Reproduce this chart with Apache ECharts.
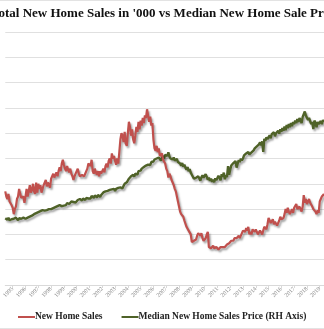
<!DOCTYPE html>
<html>
<head>
<meta charset="utf-8">
<script src="https://cdn.jsdelivr.net/npm/echarts@6/dist/echarts.min.js"></script>
<style>
  html, body { margin: 0; padding: 0; background: #ffffff; }
  #chart { width: 324px; height: 329px; }
</style>
</head>
<body>
<div id="chart"></div>
<script>
// Monthly series, June 1994 through May 2019.
const firstYear = 1994;
const firstMonth = 6;

// New home sales, thousands (SAAR), one row per calendar year
const sales1994 = [740, 700, 680, 720, 660, 650, 630];
const sales1995 = [610, 560, 600, 620, 680, 700, 760, 720, 690, 680, 700, 650];
const sales1996 = [700, 760, 700, 740, 790, 730, 750, 800, 740, 720, 810, 730];
const sales1997 = [800, 760, 790, 730, 740, 790, 800, 830, 780, 810, 820, 770];
const sales1998 = [840, 860, 880, 850, 870, 890, 860, 900, 930, 900, 960, 990];
const sales1999 = [950, 920, 900, 940, 910, 890, 920, 880, 860, 830, 860, 880];
const sales2000 = [890, 920, 880, 860, 850, 870, 880, 860, 850, 900, 920, 960];
const sales2001 = [960, 940, 990, 900, 880, 920, 890, 870, 900, 860, 900, 880];
const sales2002 = [870, 920, 890, 940, 960, 930, 980, 1000, 960, 1040, 1000, 1020];
const sales2003 = [980, 950, 1000, 960, 1050, 1150, 1200, 1180, 1130, 1210, 1120, 1100];
const sales2004 = [1200, 1290, 1250, 1180, 1230, 1150, 1120, 1180, 1250, 1210, 1290, 1230];
const sales2005 = [1300, 1260, 1320, 1280, 1340, 1320, 1389, 1340, 1290, 1330, 1260, 1280];
const sales2006 = [1150, 1080, 1060, 1100, 1050, 1080, 1020, 1010, 1040, 990, 980, 960];
const sales2007 = [920, 900, 850, 880, 860, 830, 810, 790, 760, 740, 700, 660];
const sales2008 = [620, 580, 560, 560, 540, 510, 500, 460, 450, 430, 420, 400];
const sales2009 = [340, 330, 350, 340, 360, 390, 410, 400, 390, 410, 370, 350];
const sales2010 = [360, 370, 400, 420, 300, 300, 290, 290, 310, 290, 280, 300];
const sales2011 = [300, 280, 290, 300, 310, 300, 290, 300, 310, 320, 310, 330];
const sales2012 = [340, 350, 360, 350, 370, 360, 370, 380, 390, 370, 390, 400];
const sales2013 = [430, 440, 420, 450, 430, 460, 400, 420, 400, 440, 430, 420];
const sales2014 = [440, 420, 400, 410, 430, 420, 400, 430, 460, 450, 440, 480];
const sales2015 = [530, 520, 490, 500, 520, 480, 500, 510, 470, 490, 510, 540];
const sales2016 = [520, 510, 530, 560, 600, 570, 610, 580, 560, 580, 600, 570];
const sales2017 = [610, 620, 640, 600, 600, 620, 630, 580, 620, 711, 650, 680];
const sales2018 = [640, 660, 680, 650, 650, 620, 600, 610, 580, 560, 590, 570];
const sales2019 = [660, 680, 700, 710, 720];

// Median new home sale price, $ thousands
const price1994 = [132, 130, 129, 133, 128, 131, 130];
const price1995 = [128, 131, 129, 133, 130, 128, 132, 130, 131, 129, 133, 132];
const price1996 = [131, 134, 133, 136, 135, 138, 137, 136, 140, 139, 142, 141];
const price1997 = [144, 143, 146, 145, 148, 146, 147, 149, 148, 151, 150, 149];
const price1998 = [150, 153, 152, 155, 154, 153, 156, 155, 158, 157, 156, 159];
const price1999 = [157, 160, 158, 162, 161, 160, 163, 165, 162, 164, 166, 163];
const price2000 = [165, 168, 166, 170, 169, 167, 171, 170, 168, 172, 175, 171];
const price2001 = [173, 171, 176, 174, 172, 177, 175, 173, 178, 176, 174, 178];
const price2002 = [180, 183, 181, 185, 182, 186, 184, 188, 185, 189, 187, 190];
const price2003 = [186, 190, 188, 192, 189, 193, 195, 191, 196, 200, 197, 203];
const price2004 = [205, 210, 208, 215, 212, 218, 214, 220, 222, 218, 225, 228];
const price2005 = [226, 230, 228, 233, 231, 236, 234, 238, 241, 237, 243, 240];
const price2006 = [244, 248, 245, 250, 247, 252, 249, 246, 251, 255, 250, 257];
const price2007 = [260, 255, 262, 254, 250, 253, 248, 252, 246, 244, 249, 243];
const price2008 = [244, 240, 236, 241, 234, 238, 232, 228, 233, 225, 229, 222];
const price2009 = [218, 214, 210, 207, 212, 209, 215, 211, 206, 213, 217, 212];
const price2010 = [215, 219, 214, 208, 212, 206, 210, 204, 208, 203, 211, 207];
const price2011 = [210, 216, 212, 207, 219, 214, 222, 209, 217, 213, 235, 218];
const price2012 = [228, 236, 233, 241, 238, 245, 232, 240, 247, 243, 250, 246];
const price2013 = [250, 256, 253, 260, 257, 263, 258, 255, 262, 260, 266, 270];
const price2014 = [268, 274, 271, 278, 282, 276, 284, 263, 289, 285, 292, 288];
const price2015 = [292, 296, 290, 298, 295, 302, 294, 300, 297, 305, 299, 308];
const price2016 = [303, 310, 305, 313, 306, 316, 310, 318, 312, 320, 314, 322];
const price2017 = [318, 325, 320, 328, 322, 330, 326, 320, 332, 329, 343, 335];
const price2018 = [332, 326, 330, 324, 318, 322, 308, 325, 320, 312, 322, 318];
const price2019 = [315, 324, 318, 326, 322];

const salesRows = [sales1994, sales1995, sales1996, sales1997, sales1998, sales1999, sales2000,
  sales2001, sales2002, sales2003, sales2004, sales2005, sales2006, sales2007, sales2008,
  sales2009, sales2010, sales2011, sales2012, sales2013, sales2014, sales2015, sales2016,
  sales2017, sales2018, sales2019];
const priceRows = [price1994, price1995, price1996, price1997, price1998, price1999, price2000,
  price2001, price2002, price2003, price2004, price2005, price2006, price2007, price2008,
  price2009, price2010, price2011, price2012, price2013, price2014, price2015, price2016,
  price2017, price2018, price2019];

const seriesNames = ['New Home Sales', 'Median New Home Sales Price (RH Axis)'];
const titleText = "Total New Home Sales in '000 vs Median New Home Sale Price";

const sales = [].concat(...salesRows);
const price = [].concat(...priceRows);

// month categories "YYYY-MM"
const months = [];
{
  let y = firstYear, m = firstMonth;
  for (let i = 0; i < sales.length; i++) {
    months.push(y + '-' + String(m).padStart(2, '0'));
    m++;
    if (m > 12) { m = 1; y++; }
  }
}
const isJanuary = (idx, val) => String(val).slice(5) === '01';

const chart = echarts.init(document.getElementById('chart'), null, { renderer: 'canvas' });

const lineShadow = {
  shadowColor: 'rgba(0,0,0,0.35)',
  shadowBlur: 2,
  shadowOffsetX: 1.5,
  shadowOffsetY: 2
};

chart.setOption({
  animation: false,
  backgroundColor: '#ffffff',
  graphic: [
    { type: 'line', shape: { x1: 0, y1: 0.5, x2: 324, y2: 0.5 }, style: { stroke: '#e3e3e3', lineWidth: 1 } },
    { type: 'line', shape: { x1: 0, y1: 328.5, x2: 324, y2: 328.5 }, style: { stroke: '#e3e3e3', lineWidth: 1 } },
    {
      type: 'text', left: -9, top: 7,
      style: { text: titleText, font: 'bold 13px "Liberation Serif"', fill: '#111111' }
    }
  ],
  grid: { left: 0, right: 0, top: 32, bottom: 44, containLabel: false },
  legend: {
    top: 307,
    left: 13,
    width: 400,
    itemWidth: 17,
    itemHeight: 2,
    itemGap: 19,
    icon: 'rect',
    textStyle: { fontFamily: 'Liberation Serif', fontWeight: 'bold', fontSize: 9.5, color: '#222222', padding: [0, 0, 0, -5] },
    data: seriesNames
  },
  xAxis: {
    type: 'category',
    data: months,
    boundaryGap: false,
    axisLine: { show: true, lineStyle: { color: '#d9d9d9', width: 1 } },
    axisTick: { show: true, interval: isJanuary, length: 3, lineStyle: { color: '#d9d9d9' } },
    axisLabel: {
      interval: isJanuary,
      formatter: v => v.slice(0, 4),
      rotate: 45,
      fontSize: 6,
      color: '#8a8a8a',
      margin: 3,
      fontFamily: 'Liberation Serif'
    },
    splitLine: { show: false }
  },
  yAxis: [
    {
      type: 'value', min: 0, max: 2000, interval: 200,
      axisLabel: { show: false }, axisLine: { show: false }, axisTick: { show: false },
      splitLine: { show: true, lineStyle: { color: '#e0e0e0', width: 1 } }
    },
    {
      type: 'value', min: 0, max: 500, interval: 50,
      axisLabel: { show: false }, axisLine: { show: false }, axisTick: { show: false },
      splitLine: { show: false }
    }
  ],
  series: [
    {
      name: seriesNames[0], type: 'line', data: sales, yAxisIndex: 0,
      showSymbol: false, symbol: 'none',
      lineStyle: Object.assign({ color: '#c0504d', width: 2.2 }, lineShadow),
      itemStyle: { color: '#c0504d' }, z: 3
    },
    {
      name: seriesNames[1], type: 'line', data: price, yAxisIndex: 1,
      showSymbol: false, symbol: 'none',
      lineStyle: Object.assign({ color: '#4f6228', width: 2.4 }, lineShadow),
      itemStyle: { color: '#4f6228' }, z: 2
    }
  ]
});
</script>
</body>
</html>
